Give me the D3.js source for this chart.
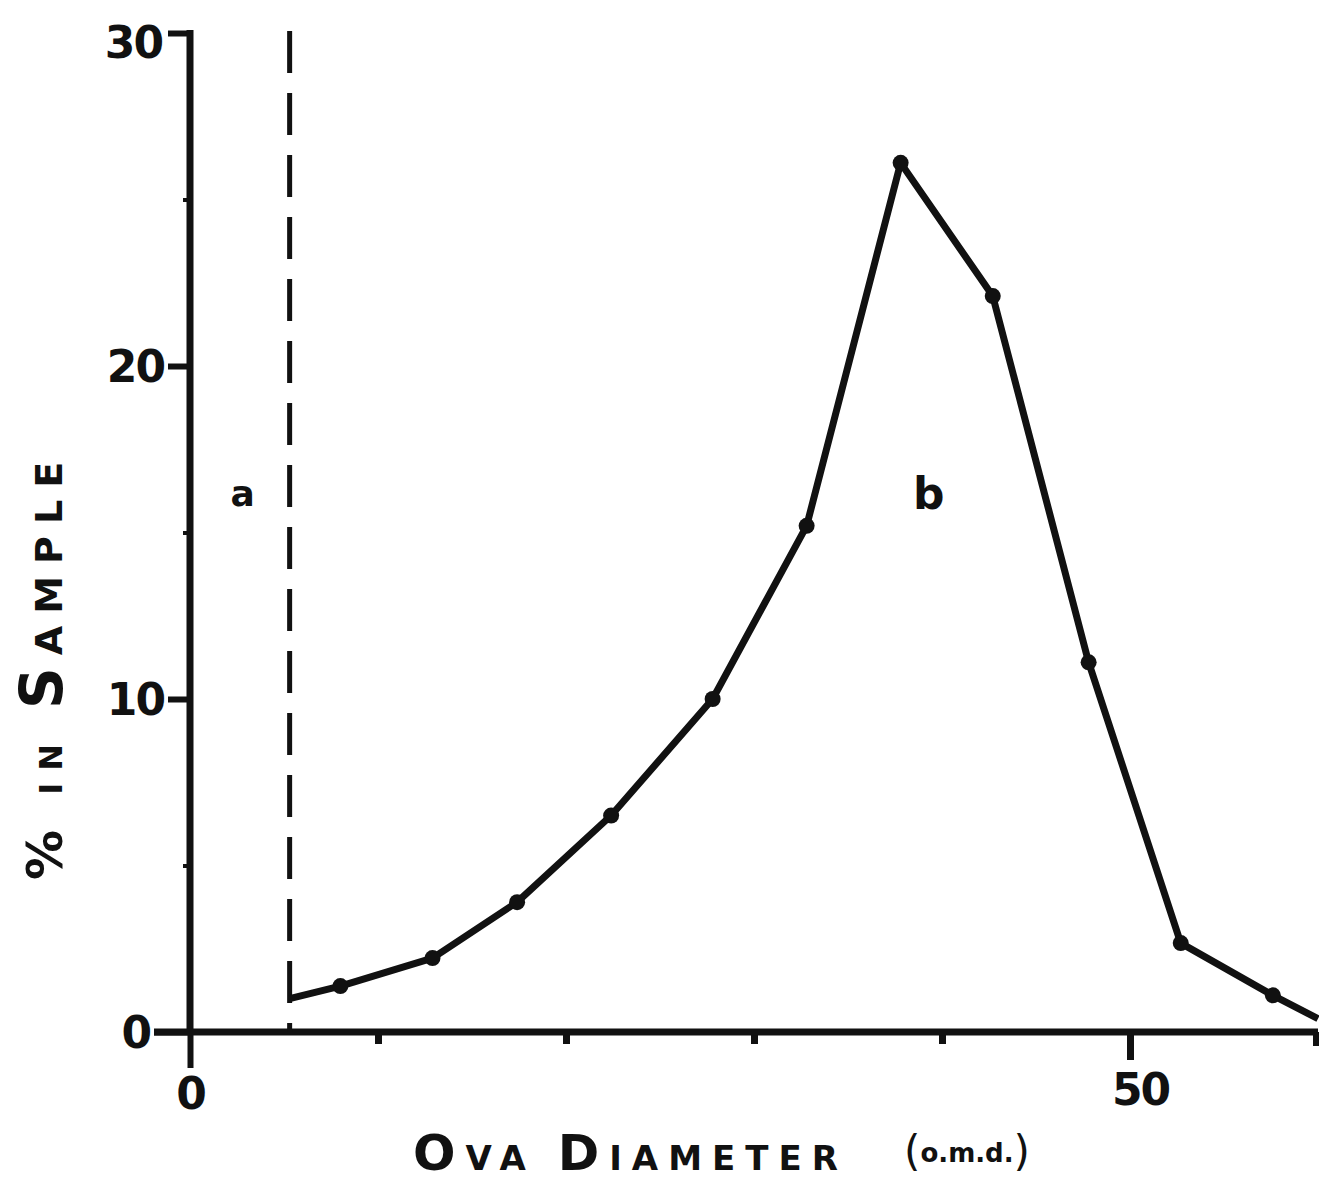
<!DOCTYPE html>
<html>
<head>
<meta charset="utf-8">
<script src="https://cdn.jsdelivr.net/npm/d3@7"></script>
<style>
  html, body { margin: 0; padding: 0; background: #fff; }
  svg { display: block; }
  text { font-family: "DejaVu Sans", sans-serif; font-weight: bold; fill: #111; }
</style>
</head>
<body>
<script>
// ---- data ----
const ovaDiameter = [5.3, 8.0, 12.9, 17.4, 22.4, 27.8, 32.8, 37.8, 42.7, 47.8, 52.7, 57.6, 60];
const pctInSample = [1.0, 1.38, 2.22, 3.9, 6.5, 10.0, 15.2, 26.1, 22.1, 11.1, 2.67, 1.1, 0.4];
const markedPoint = [false, true, true, true, true, true, true, true, true, true, true, true, false];
const yMajorTicks = [0, 10, 20, 30];
const yMinorTicks = [5, 15, 25];
const xMinorTicks = [10, 20, 30, 40];
const xLabelTicks = [0, 50];
const dividerX = 5.3;
const regionLabels = [{t: "a", x: 2.8, y: 15.8, s: 36}, {t: "b", x: 39.3, y: 15.7, s: 44}];

const W = 1319, H = 1186;
const ink = "#111";
const svg = d3.select("body").append("svg").attr("width", W).attr("height", H);

const x = d3.scaleLinear().domain([0, 60]).range([190, 1318]);
const y = d3.scaleLinear().domain([0, 30]).range([1032, 33]);

// y axis major ticks
const yAx = svg.append("g").attr("transform", `translate(${x(0)},0)`)
  .call(d3.axisLeft(y).tickValues(yMajorTicks).tickSize(22).tickPadding(4).tickFormat(d3.format("d")));
yAx.select(".domain").remove();
yAx.selectAll(".tick line").attr("stroke", ink).attr("stroke-width", 6);
yAx.selectAll(".tick text").attr("font-size", 44).attr("dy", "0.36em").attr("letter-spacing", -2);
yAx.selectAll(".tick").filter(d => d === 0).select("line").attr("x2", -36);
yAx.selectAll(".tick").filter(d => d === 0).select("text").attr("x", -40);
yAx.selectAll(".tick").filter(d => d === 30).select("text").attr("dy", "0.55em").attr("x", -28);

// y minor ticks
const yMin = svg.append("g").attr("transform", `translate(${x(0)},0)`)
  .call(d3.axisLeft(y).tickValues(yMinorTicks).tickSize(7).tickFormat(""));
yMin.select(".domain").remove();
yMin.selectAll(".tick line").attr("stroke", ink).attr("stroke-width", 4);

// x axis minor ticks
const xMin = svg.append("g").attr("transform", `translate(0,${y(0)})`)
  .call(d3.axisBottom(x).tickValues(xMinorTicks).tickSize(12).tickFormat(""));
xMin.select(".domain").remove();
xMin.selectAll(".tick line").attr("stroke", ink).attr("stroke-width", 7);

// x axis labelled ticks
const xLab = svg.append("g").attr("transform", `translate(0,${y(0)})`)
  .call(d3.axisBottom(x).tickValues(xLabelTicks).tickSize(28).tickPadding(14).tickFormat(d3.format("d")));
xLab.select(".domain").remove();
xLab.selectAll(".tick line").attr("stroke", ink).attr("stroke-width", 7);
xLab.selectAll(".tick").filter(d => d === 0).select("line").attr("y2", 36).attr("stroke-width", 6);
xLab.selectAll(".tick").filter(d => d === 0).select("text").attr("y", 46);
xLab.selectAll(".tick text").attr("font-size", 44).attr("letter-spacing", -2);
xLab.selectAll(".tick").filter(d => d === 50).select("text").attr("dx", 10);

// axis lines
svg.append("line").attr("x1", x(0)).attr("x2", x(0)).attr("y1", y(30) - 3).attr("y2", y(0) + 3)
  .attr("stroke", ink).attr("stroke-width", 7);
svg.append("line").attr("x1", x(0) - 36).attr("x2", x(60)).attr("y1", y(0)).attr("y2", y(0))
  .attr("stroke", ink).attr("stroke-width", 7);
svg.append("line").attr("x1", x(60) - 2).attr("x2", x(60) - 2).attr("y1", y(0)).attr("y2", y(0) + 14)
  .attr("stroke", ink).attr("stroke-width", 6);

// dashed divider
svg.append("line").attr("x1", x(dividerX)).attr("x2", x(dividerX))
  .attr("y1", y(30) - 2).attr("y2", y(0))
  .attr("stroke", ink).attr("stroke-width", 5).attr("stroke-dasharray", "42,20");

// curve
const pts = ovaDiameter.map((d, i) => ({x: d, y: pctInSample[i], m: markedPoint[i]}));
svg.append("path").datum(pts)
  .attr("d", d3.line().x(d => x(d.x)).y(d => y(d.y)))
  .attr("fill", "none").attr("stroke", ink).attr("stroke-width", 7)
  .attr("stroke-linejoin", "round").attr("stroke-linecap", "butt");
svg.selectAll("circle.pt").data(pts.filter(d => d.m)).enter().append("circle")
  .attr("class", "pt").attr("cx", d => x(d.x)).attr("cy", d => y(d.y)).attr("r", 8).attr("fill", ink);

// region labels
svg.selectAll("text.reg").data(regionLabels).enter().append("text")
  .attr("class", "reg").attr("x", d => x(d.x)).attr("y", d => y(d.y))
  .attr("text-anchor", "middle").attr("font-size", d => d.s).text(d => d.t);

// x axis title (small caps)
const xt = svg.append("text").attr("x", 413).attr("y", 1170).attr("letter-spacing", 10);
xt.append("tspan").attr("font-size", 50).text("O");
xt.append("tspan").attr("font-size", 34).text("VA ");
xt.append("tspan").attr("font-size", 50).text("D");
xt.append("tspan").attr("font-size", 34).text("IAMETER");
const xu = svg.append("text").attr("x", 904).attr("y", 1166);
xu.append("tspan").attr("font-size", 42).attr("font-weight", "normal").text("(");
xu.append("tspan").attr("font-size", 26).attr("dy", -4).text("o.m.d.");
xu.append("tspan").attr("font-size", 42).attr("font-weight", "normal").attr("dy", 4).text(")");

// y axis title (small caps, rotated)
const yt = svg.append("text").attr("transform", "translate(62,880) rotate(-90)").attr("letter-spacing", 12);
yt.append("tspan").attr("font-size", 50).text("%");
yt.append("tspan").attr("font-size", 32).text(" IN ");
yt.append("tspan").attr("font-size", 58).text("S");
yt.append("tspan").attr("font-size", 38).text("AMPLE");
</script>
</body>
</html>
